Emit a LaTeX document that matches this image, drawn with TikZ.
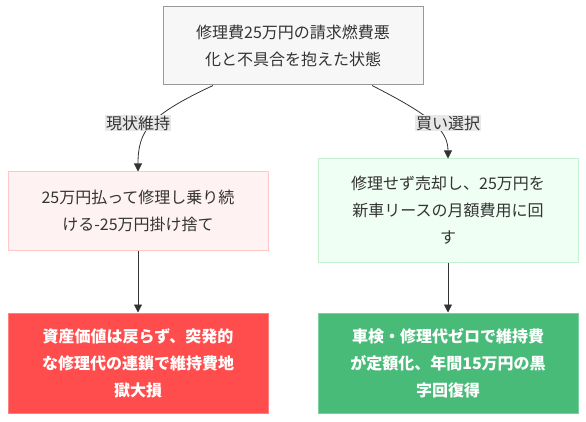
\documentclass[tikz,border=0pt]{standalone}
\usepackage{fontspec}
\setmainfont{Noto Sans CJK JP}
\usetikzlibrary{arrows.meta}
\definecolor{txt}{HTML}{333333}
\definecolor{topfill}{HTML}{F7F7F7}
\definecolor{topdraw}{HTML}{999999}
\definecolor{pinkfill}{HTML}{FFF2F2}
\definecolor{pinkdraw}{HTML}{FFC8C8}
\definecolor{lgfill}{HTML}{F0FFF4}
\definecolor{lgdraw}{HTML}{C6F0D2}
\definecolor{redfill}{HTML}{FF4D4D}
\definecolor{reddraw}{HTML}{FF8080}
\definecolor{grfill}{HTML}{48BB78}
\definecolor{grdraw}{HTML}{7CD0A0}
\definecolor{labfill}{HTML}{E8E8E8}
\definecolor{edge}{HTML}{333333}
\tikzset{
  box/.style={rectangle, minimum width=260pt, inner sep=0pt, align=center,
    font=\fontsize{16}{27}\selectfont, text=txt, line width=1pt},
  boldbox/.style={box, font=\fontsize{16}{27}\selectfont\bfseries, text=white},
  elabel/.style={fill=labfill, inner sep=1pt, font=\fontsize{16}{20}\selectfont, text=txt},
  conn/.style={draw=edge, line width=0.8pt, -{Triangle[length=8pt,width=8pt]}},
}
\begin{document}
\begin{tikzpicture}[x=1pt,y=-1pt]
\useasboundingbox[fill=white] (0,0) rectangle (586,422);
\node[box, fill=topfill, draw=topdraw, minimum height=78pt] (top) at (293,46) {修理費25万円の請求燃費悪\\化と不具合を抱えた状態};
\node[box, fill=pinkfill, draw=pinkdraw, minimum height=78pt] (keep) at (138,211) {25万円払って修理し乗り続\\ける-25万円掛け捨て};
\node[box, fill=lgfill, draw=lgdraw, minimum height=103pt] (sell) at (448,210.5) {修理せず売却し、25万円を\\新車リースの月額費用に回\\す};
\node[boldbox, fill=redfill, draw=reddraw, minimum height=100pt] (loss) at (138,363) {資産価値は戻らず、突発的\\な修理代の連鎖で維持費地\\獄大損};
\node[boldbox, fill=grfill, draw=grdraw, minimum height=100pt] (gain) at (448,363) {車検・修理代ゼロで維持費\\が定額化、年間15万円の黒\\字回復得};
\coordinate (s1) at ([xshift=-80pt]top.south);
\coordinate (s2) at ([xshift=79pt]top.south);
\draw[conn] (s1) .. controls (150,115) and (138,130) .. (keep.north);
\draw[conn] (s2) .. controls (430,115) and (448,130) .. (sell.north);
\node[elabel] (l1) at (138,123) {現状維持};
\node[elabel] (l2) at (448,123) {買い選択};
\draw[conn] (keep.south) -- (loss.north);
\draw[conn] (sell.south) -- (gain.north);
\end{tikzpicture}
\end{document}
